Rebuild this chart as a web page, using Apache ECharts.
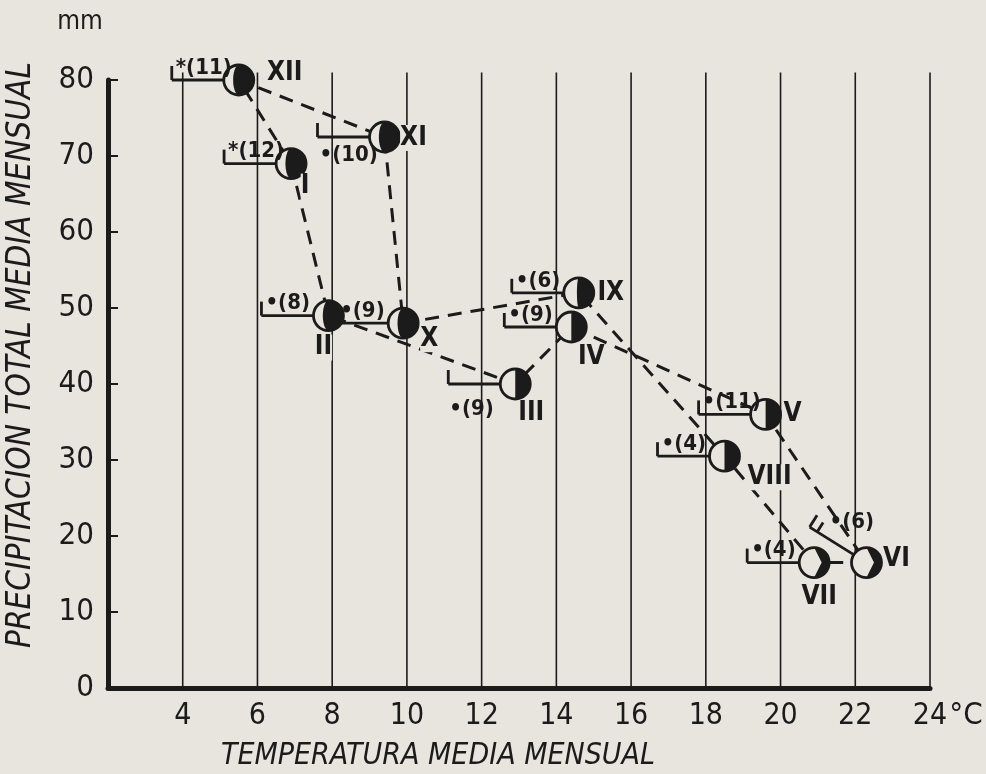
<!DOCTYPE html>
<html>
<head>
<meta charset="utf-8">
<title>Climograma</title>
<script src="https://cdn.jsdelivr.net/npm/echarts@6/dist/echarts.min.js"></script>
<style>
  html, body { margin: 0; padding: 0; background: #e7e5de; }
  #chart { width: 986px; height: 774px; }
</style>
</head>
<body>
<div id="chart"></div>
<script>
// datos mensuales, orden I..XII
const months = ['I', 'II', 'III', 'IV', 'V', 'VI', 'VII', 'VIII', 'IX', 'X', 'XI', 'XII'];
const temperature = [6.9, 7.9, 12.9, 14.4, 19.6, 22.3, 20.9, 18.5, 14.6, 9.9, 9.4, 5.5];
const precipitation = [69, 49, 40, 47.5, 36, 16.5, 16.5, 30.5, 52, 48, 72.5, 80];
const precipDays = [12, 8, 9, 9, 11, 6, 4, 4, 6, 9, 10, 11];
const precipKind = ['*', '•', '•', '•', '•', '•', '•', '•', '•', '•', '•', '*'];
const cloudEighths = [5.5, 5.5, 4, 4, 4, 3, 3, 4, 4.5, 5.5, 5.5, 5.5];
const windDir = [180, 180, 180, 180, 180, 148, 180, 180, 180, 180, 180, 180];
const windBarbs = [1, 1, 1, 1, 1, 2, 1, 1, 1, 1, 1, 1];

const xTicks = [4, 6, 8, 10, 12, 14, 16, 18, 20, 22, 24];
const yTicks = [0, 10, 20, 30, 40, 50, 60, 70, 80];

const INK = '#1b1b1b';
const PAPER = '#e7e5de';
const NARROW = "'Liberation Sans Narrow', 'DejaVu Sans Condensed', 'DejaVu Sans', sans-serif";

// posicion de las etiquetas respecto al circulo (px)
const romanOffset = {
  I: [14, 23], II: [-5, 32], III: [16, 29], IV: [20, 30], V: [27, 0], VI: [30, -3],
  VII: [5, 35], VIII: [45, 21], IX: [32, 0], X: [26, 16], XI: [29, 1], XII: [46, -7]
};
const dayOffset = { XI: [-65, 18], III: [-66, 25], VI: [-37, -40] };

function coverPolygon(cx, cy, r, e) {
  const pts = [];
  const n = 36;
  for (let k = 0; k <= n; k++) {
    const t = -Math.PI / 2 + Math.PI * k / n;
    pts.push([cx + r * Math.cos(t), cy + r * Math.sin(t)]);
  }
  if (e >= 4) {
    const rx = r * (e - 4) / 4;
    for (let k = 1; k < n; k++) {
      const t = Math.PI / 2 + Math.PI * k / n;
      pts.push([cx + rx * Math.cos(t), cy + r * Math.sin(t)]);
    }
  } else {
    // muesca blanca hacia el centro
    pts.push([cx + r * (4 - e) / 2, cy]);
  }
  return pts;
}

function renderPoint(params, api) {
  const i = params.dataIndex;
  const m = months[i];
  const c = api.coord([api.value(0), api.value(1)]);
  const cx = c[0], cy = c[1];
  const r = 15;
  const a = windDir[i] * Math.PI / 180;
  const dx = Math.cos(a), dy = -Math.sin(a);
  const L = 67;
  const ex = cx + dx * L, ey = cy + dy * L;
  const px = -dy, py = dx;
  const lw = 2.8;

  const children = [];
  children.push({ type: 'line', shape: { x1: cx, y1: cy, x2: ex, y2: ey }, style: { stroke: INK, lineWidth: lw } });
  for (let b = 0; b < windBarbs[i]; b++) {
    const bx = ex - dx * 9 * b, by = ey - dy * 9 * b;
    const bl = b === 0 ? 14 : 11;
    children.push({ type: 'line', shape: { x1: bx, y1: by, x2: bx + px * bl, y2: by + py * bl }, style: { stroke: INK, lineWidth: lw } });
  }
  children.push({ type: 'circle', shape: { cx: cx, cy: cy, r: r }, style: { fill: PAPER, stroke: null } });
  children.push({ type: 'polygon', shape: { points: coverPolygon(cx, cy, r, cloudEighths[i]) }, style: { fill: INK } });
  children.push({ type: 'circle', shape: { cx: cx, cy: cy, r: r }, style: { fill: null, stroke: INK, lineWidth: lw } });

  const dOff = dayOffset[m] || [-63, -12];
  children.push({
    type: 'text', x: cx + dOff[0], y: cy + dOff[1],
    style: {
      text: precipKind[i] + '(' + precipDays[i] + ')',
      fontFamily: NARROW, fontSize: 22, fontWeight: 'bold', fill: INK,
      align: 'left', verticalAlign: 'middle', textAlign: 'left', textVerticalAlign: 'middle'
    }
  });
  const rOff = romanOffset[m];
  children.push({
    type: 'text', x: cx + rOff[0], y: cy + rOff[1],
    style: {
      text: m, fontFamily: NARROW, fontSize: 26, fontWeight: 'bold', fill: INK,
      backgroundColor: PAPER, padding: 0,
      align: 'center', verticalAlign: 'middle', textAlign: 'center', textVerticalAlign: 'middle'
    }
  });
  return { type: 'group', children: children };
}

const chart = echarts.init(document.getElementById('chart'));

const loop = months.map((m, i) => [temperature[i], precipitation[i]]);
loop.push([temperature[0], precipitation[0]]);

chart.setOption({
  backgroundColor: PAPER,
  animation: false,
  grid: { left: 108, right: 56, top: 80, bottom: 86 },
  xAxis: {
    type: 'value', min: 2, max: 24, interval: 2,
    axisLine: { show: true, onZero: false, lineStyle: { color: INK, width: 5 } },
    axisTick: { show: false },
    splitLine: { show: false },
    axisLabel: {
      showMinLabel: false, margin: 13, color: INK, fontSize: 30, fontFamily: NARROW,
      formatter: v => (xTicks.indexOf(v) >= 0 ? String(v) : '')
    }
  },
  yAxis: {
    type: 'value', min: 0, max: 80, interval: 10,
    axisLine: { show: true, lineStyle: { color: INK, width: 5 } },
    axisTick: { show: true, inside: true, length: 10, lineStyle: { color: INK, width: 2 } },
    splitLine: { show: false },
    axisLabel: {
      margin: 14, color: INK, fontSize: 31, fontFamily: NARROW,
      formatter: v => (yTicks.indexOf(v) >= 0 ? String(v) : '')
    }
  },
  graphic: [
    { type: 'text', x: 80, y: 22, style: { text: 'mm', fontSize: 26, fontFamily: NARROW, fill: INK, textAlign: 'center', textVerticalAlign: 'middle' } },
    { type: 'text', x: 966, y: 716, style: { text: '°C', fontSize: 31, fontFamily: NARROW, fill: INK, textAlign: 'center', textVerticalAlign: 'middle' } },
    {
      type: 'text', x: 21, y: 355, rotation: Math.PI / 2,
      style: { text: 'PRECIPITACION TOTAL MEDIA MENSUAL', fontSize: 33, fontStyle: 'italic', fontFamily: NARROW, fill: INK, textAlign: 'center', textVerticalAlign: 'middle' }
    },
    {
      type: 'text', x: 438, y: 756,
      style: { text: 'TEMPERATURA MEDIA MENSUAL', fontSize: 30, fontStyle: 'italic', fontFamily: NARROW, fill: INK, textAlign: 'center', textVerticalAlign: 'middle' }
    }
  ],
  series: [
    {
      // lineas verticales de la cuadricula
      type: 'custom', z: 1, clip: false, silent: true,
      data: xTicks.map(v => [v]),
      encode: { x: 0 },
      renderItem: (params, api) => {
        const x = api.value(0);
        const p0 = api.coord([x, 0]);
        const p1 = api.coord([x, 81]);
        return { type: 'line', shape: { x1: p0[0], y1: p0[1], x2: p1[0], y2: p1[1] }, style: { stroke: INK, lineWidth: 1.6 } };
      }
    },
    {
      type: 'line', z: 2, silent: true,
      data: loop,
      showSymbol: false, symbol: 'none',
      lineStyle: { color: INK, width: 3, type: [14, 9] }
    },
    {
      type: 'custom', z: 3, clip: false, silent: true,
      data: months.map((m, i) => [temperature[i], precipitation[i]]),
      encode: { x: 0, y: 1 },
      renderItem: renderPoint
    }
  ]
});
</script>
</body>
</html>
